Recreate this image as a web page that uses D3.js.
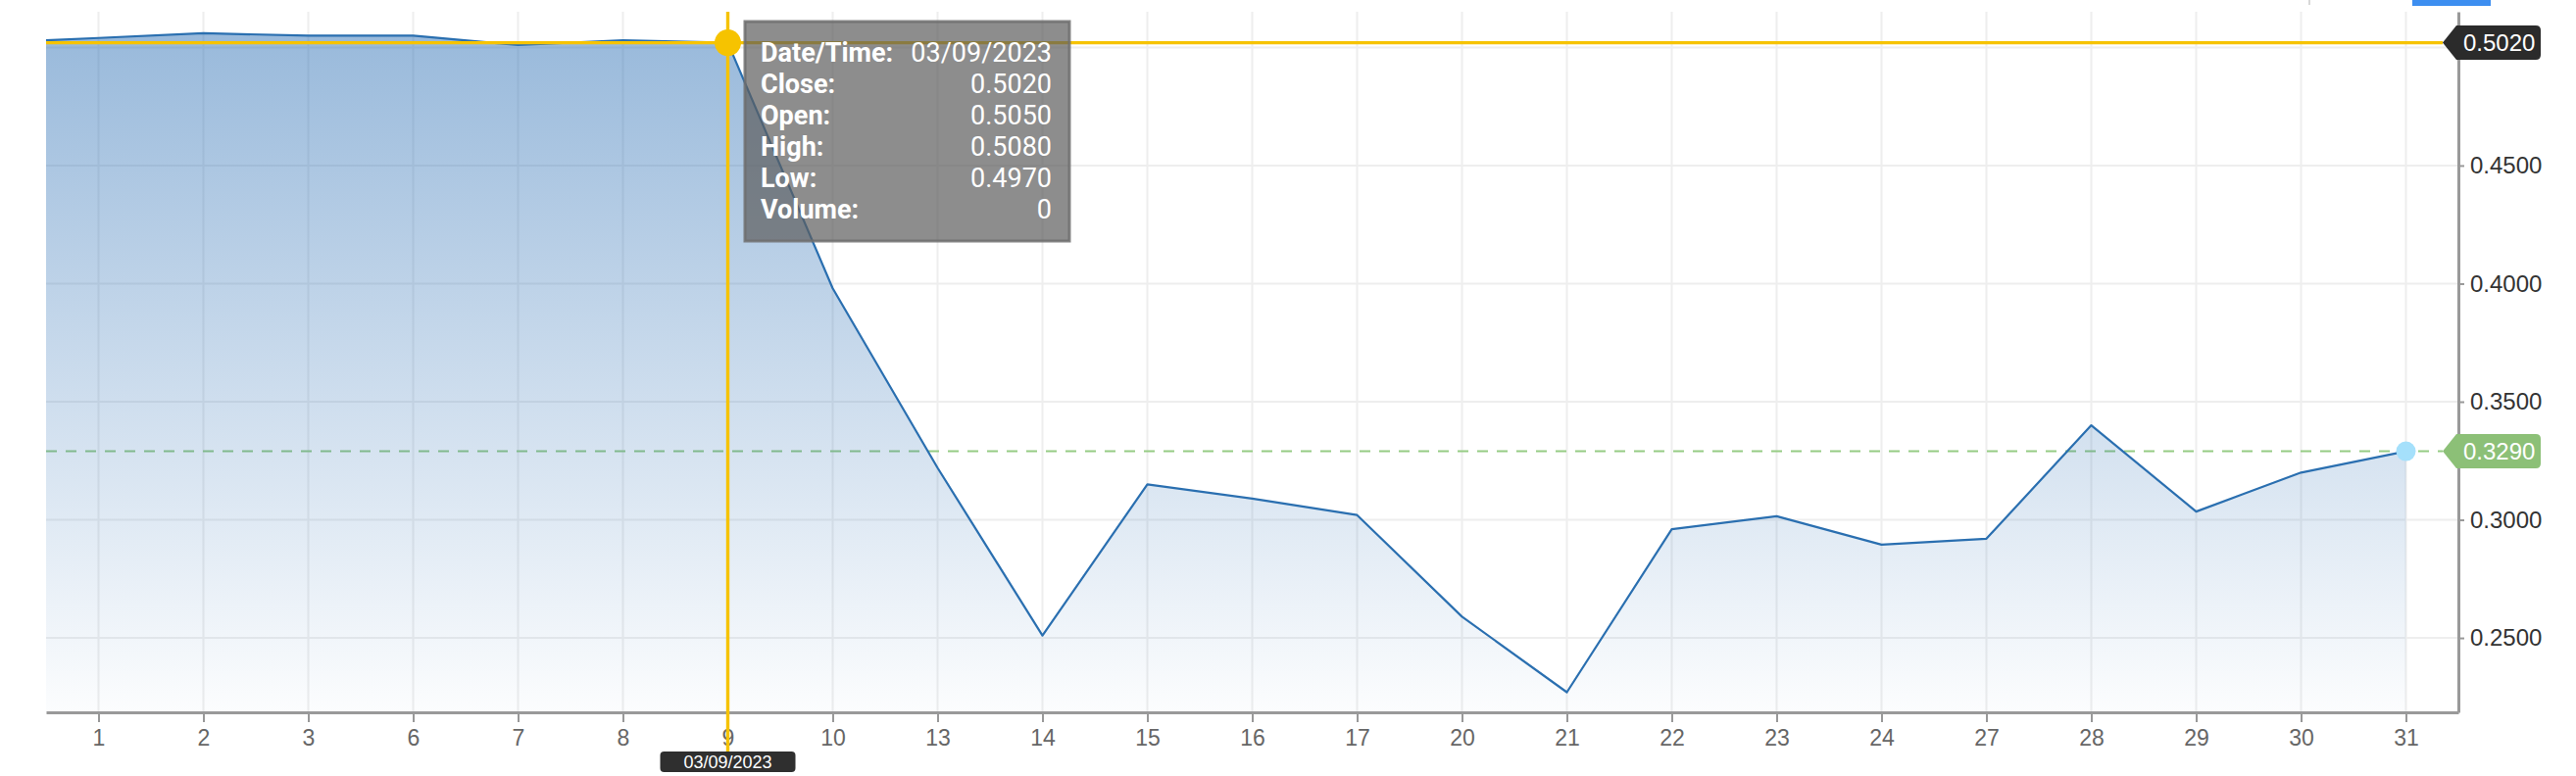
<!DOCTYPE html>
<html>
<head>
<meta charset="utf-8">
<script src="https://cdn.jsdelivr.net/npm/d3@7/dist/d3.min.js"></script>
<style>
  html, body { margin: 0; padding: 0; background: #ffffff; }
  svg { display: block; }
</style>
</head>
<body>
<svg id="chart" width="2628" height="792"></svg>
<script>
// ---------------- DATA ----------------
const categories = ["1","2","3","6","7","8","9","10","13","14","15","16","17","20","21","22","23","24","27","28","29","30","31"];
const closeValues = [0.504,0.506,0.505,0.505,0.501,0.503,0.502,0.398,0.322,0.251,0.315,0.309,0.302,0.259,0.227,0.296,0.3015,0.2895,0.292,0.340,0.3035,0.320,0.329];
const priorClose = 0.502;          // previous session, just off the left edge (clipped)
const yTickValues = [0.25, 0.30, 0.35, 0.40, 0.45, 0.50];
const hoverIndex = 6;              // crosshair on "9"
const hoverDate = "03/09/2023";
const tooltipLabels = ["Date/Time:", "Close:", "Open:", "High:", "Low:", "Volume:"];
const tooltipValues = ["03/09/2023", "0.5020", "0.5050", "0.5080", "0.4970", "0"];
const lastClose = 0.329;

// ---------------- LAYOUT ----------------
const W = 2628, H = 792;
const plot = { left: 47, right: 2508, top: 12, bottom: 727 };
const svg = d3.select("#chart");

const x = d3.scaleLinear().domain([-0.5, categories.length - 0.5]).range([plot.left, plot.right]);
const y = d3.scaleLinear().domain([0.2185, 0.5151]).range([plot.bottom, plot.top]);

const fmt4 = d3.format(".4f");

const defs = svg.append("defs");
defs.append("clipPath").attr("id", "plotClip")
  .append("rect").attr("x", plot.left).attr("y", plot.top)
  .attr("width", plot.right - plot.left).attr("height", plot.bottom - plot.top);

const grad = defs.append("linearGradient").attr("id", "areaGrad")
  .attr("gradientUnits", "userSpaceOnUse")
  .attr("x1", 0).attr("x2", 0)
  .attr("y1", y(d3.max(closeValues))).attr("y2", plot.bottom);
grad.append("stop").attr("offset", "0").attr("stop-color", "rgb(42,110,180)").attr("stop-opacity", 0.48);
grad.append("stop").attr("offset", "1").attr("stop-color", "rgb(42,110,180)").attr("stop-opacity", 0.015);

// top-right cut-off UI controls
svg.append("rect").attr("x", 2355).attr("y", 0).attr("width", 2).attr("height", 5).attr("fill", "#d8d8d8");
svg.append("rect").attr("x", 2461).attr("y", 0).attr("width", 80).attr("height", 6).attr("fill", "#3d8ef0");

// ---------------- GRID ----------------
const grid = svg.append("g");
grid.selectAll("line.v").data(categories).enter().append("line")
  .attr("x1", (d, i) => x(i)).attr("x2", (d, i) => x(i))
  .attr("y1", plot.top).attr("y2", plot.bottom)
  .attr("stroke", "#eeeeee").attr("stroke-width", 2);
grid.selectAll("line.h").data(yTickValues).enter().append("line")
  .attr("x1", plot.left).attr("x2", plot.right)
  .attr("y1", d => y(d)).attr("y2", d => y(d))
  .attr("stroke", "#eeeeee").attr("stroke-width", 2);

// ---------------- LAST PRICE DASHED LINE ----------------
svg.append("line")
  .attr("x1", plot.left).attr("x2", plot.right - 16)
  .attr("y1", y(lastClose)).attr("y2", y(lastClose))
  .attr("stroke", "rgb(150,204,132)").attr("stroke-width", 2)
  .attr("stroke-dasharray", "11,9");

// ---------------- AREA + LINE ----------------
const series = [{ i: -1, v: priorClose }].concat(closeValues.map((v, i) => ({ i, v })));
const g = svg.append("g").attr("clip-path", "url(#plotClip)");
g.append("path").datum(series)
  .attr("d", d3.area().x(d => x(d.i)).y0(plot.bottom).y1(d => y(d.v)))
  .attr("fill", "url(#areaGrad)");
g.append("path").datum(series)
  .attr("d", d3.line().x(d => x(d.i)).y(d => y(d.v)))
  .attr("fill", "none").attr("stroke", "#2a6fb0").attr("stroke-width", 2.2)
  .attr("stroke-linejoin", "round");

// ---------------- AXES ----------------
const xAxis = d3.axisBottom(x)
  .tickValues(d3.range(categories.length))
  .tickFormat(i => categories[i])
  .tickSize(10).tickPadding(8).tickSizeOuter(0);
const gx = svg.append("g").attr("transform", `translate(0,${plot.bottom})`).call(xAxis);
gx.select(".domain").attr("stroke", "#999").attr("stroke-width", 3);
gx.selectAll(".tick line").attr("stroke", "#999").attr("stroke-width", 2);
gx.selectAll(".tick text").attr("fill", "#666").attr("font-family", "Liberation Sans, Arial, sans-serif").attr("font-size", 23);

const flagValue = closeValues[hoverIndex];
const yAxis = d3.axisRight(y)
  .tickValues(yTickValues)
  // labels hidden behind the price flag are not drawn
  .tickFormat(d => Math.abs(y(d) - y(flagValue)) < 24 ? "" : fmt4(d))
  .tickSize(6).tickPadding(6).tickSizeOuter(0);
const gy = svg.append("g").attr("transform", `translate(${plot.right},0)`).call(yAxis);
gy.select(".domain").attr("stroke", "#999").attr("stroke-width", 3);
gy.selectAll(".tick line").attr("stroke", "#999").attr("stroke-width", 2);
gy.selectAll(".tick text").attr("fill", "#333").attr("font-family", "Liberation Sans, Arial, sans-serif").attr("font-size", 24);

// ---------------- CROSSHAIR ----------------
const hx = x(hoverIndex), hy = y(closeValues[hoverIndex]);
const yellow = "#f6c300";
svg.append("line").attr("x1", plot.left).attr("x2", plot.right - 16)
  .attr("y1", hy).attr("y2", hy).attr("stroke", yellow).attr("stroke-width", 3.4);
svg.append("line").attr("x1", hx).attr("x2", hx)
  .attr("y1", plot.top).attr("y2", 768).attr("stroke", yellow).attr("stroke-width", 3.4);
svg.append("circle").attr("cx", hx).attr("cy", hy).attr("r", 13.5).attr("fill", yellow);

// last point marker
svg.append("circle").attr("cx", x(closeValues.length - 1)).attr("cy", y(lastClose))
  .attr("r", 10).attr("fill", "#a5e0fb");

// ---------------- TOOLTIP ----------------
const tip = svg.append("g");
const tipX0 = 760, tipX1 = 1091, tipY0 = 22, tipY1 = 246;
tip.append("rect").attr("x", tipX0).attr("y", tipY0)
  .attr("width", tipX1 - tipX0).attr("height", tipY1 - tipY0)
  .attr("fill", "rgba(92,92,92,0.7)")
  .attr("stroke", "rgba(110,110,110,0.85)").attr("stroke-width", 3);
tooltipLabels.forEach((lab, k) => {
  const by = 63 + k * 32;
  tip.append("text").attr("x", 776).attr("y", by).text(lab)
    .attr("fill", "#fff").attr("font-family", "Roboto, sans-serif")
    .attr("font-weight", 700).attr("font-size", 27);
  tip.append("text").attr("x", 1073).attr("y", by).text(tooltipValues[k])
    .attr("text-anchor", "end")
    .attr("fill", "#fff").attr("font-family", "Roboto, sans-serif")
    .attr("font-weight", 400).attr("font-size", 27);
});

// ---------------- PRICE FLAGS ON RIGHT AXIS ----------------
function flag(value, fill) {
  const cy = y(value), h = 35, top = cy - h / 2, bot = cy + h / 2;
  const tipPx = plot.right - 16, base = plot.right, right = 2592, r = 5;
  const p = d3.path();
  p.moveTo(tipPx, cy);
  p.lineTo(base - 2, top);
  p.lineTo(right - r, top);
  p.quadraticCurveTo(right, top, right, top + r);
  p.lineTo(right, bot - r);
  p.quadraticCurveTo(right, bot, right - r, bot);
  p.lineTo(base - 2, bot);
  p.closePath();
  svg.append("path").attr("d", p.toString()).attr("fill", fill);
  svg.append("text").attr("x", 2513).attr("y", cy + 8.5).text(fmt4(value))
    .attr("fill", "#fff").attr("font-family", "Liberation Sans, Arial, sans-serif").attr("font-size", 24);
}
flag(flagValue, "#2b2b2b");
flag(lastClose, "#8cc077");

// ---------------- DATE FLAG ON X AXIS ----------------
svg.append("rect").attr("x", hx - 69).attr("y", 767).attr("width", 138).attr("height", 21)
  .attr("rx", 4).attr("fill", "#2f2f2f");
svg.append("text").attr("x", hx).attr("y", 784).attr("text-anchor", "middle").text(hoverDate)
  .attr("fill", "#fff").attr("font-family", "Liberation Sans, Arial, sans-serif").attr("font-size", 18);
</script>
</body>
</html>
